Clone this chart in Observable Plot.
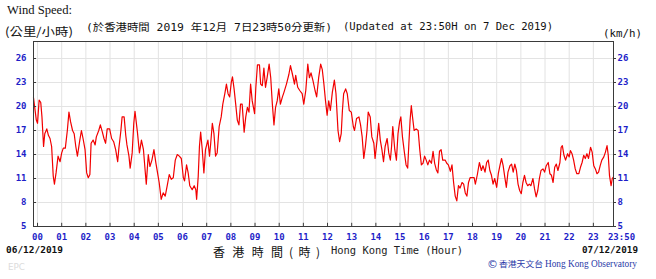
<!DOCTYPE html>
<html>
<head>
<meta charset="utf-8">
<script src="https://cdn.jsdelivr.net/npm/d3@7"></script>
<script src="https://cdn.jsdelivr.net/npm/@observablehq/plot@0.6"></script>
<style>
  html, body { margin: 0; padding: 0; background: #fff; }
  #wrap { position: relative; width: 656px; height: 279px; overflow: hidden; background: #fff; }
  #wrap svg { position: absolute; left: 0; top: 0; }
</style>
</head>
<body>
<div id="wrap"></div>
<script>
// minutes after 00:00 on 06/12/2019
const minutes = [
  -10, -3, 0, 4, 8, 11, 15, 18, 23, 27, 31, 35, 39, 42, 46, 51, 56, 60, 64, 69,
  74, 78, 82, 87, 91, 95, 99, 105, 109, 113, 118, 122, 126, 130, 133, 138, 143, 146, 152, 156,
  161, 165, 169, 173, 179, 184, 189, 194, 199, 202, 207, 210, 215, 219, 222, 227, 230, 235, 239, 242,
  245, 248, 253, 258, 263, 267, 270, 275, 279, 284, 289, 294, 298, 302, 307, 312, 317, 322, 327, 332,
  337, 342, 347, 352, 357, 362, 365, 370, 374, 378,
  384, 389, 393, 395, 399, 402, 405, 409, 413, 417, 420, 423, 427, 430, 434, 438, 442, 446, 451, 456,
  460, 465, 469, 473, 477, 481, 484, 488, 492, 496, 500, 504, 508, 513, 517, 521, 525, 529, 533, 539,
  542, 546, 551, 554, 558, 562, 566, 570, 575, 579, 583, 587, 591, 595, 599, 603, 608, 612, 618, 624,
  628, 633, 638, 641, 646, 651, 657, 661, 666, 671, 675, 679, 684, 689, 693, 698, 703, 707, 711, 715,
  719, 723, 727, 732, 737, 741, 746, 750, 754, 757, 760, 765, 769, 774, 779, 784, 787, 792, 798, 802,
  806, 810, 814, 818, 821, 826, 830, 835, 838, 843, 847, 851, 855, 859, 863, 868, 872, 876, 879, 882,
  887, 891, 895, 899, 902, 906, 911, 915, 919, 922, 925, 928, 931, 935, 940, 945, 949, 953, 957, 961,
  965, 969, 973, 978, 982, 986, 990, 994, 998, 1002, 1006, 1012, 1016, 1020, 1025, 1029, 1033, 1037, 1041, 1045,
  1049, 1054, 1058, 1062, 1066, 1070, 1074, 1079, 1084, 1087, 1092, 1097,
  1102, 1106, 1111, 1115, 1119, 1123, 1127, 1131, 1135, 1140, 1144, 1148, 1152, 1156, 1160, 1164, 1168, 1173, 1177, 1181,
  1185, 1189, 1193, 1197, 1201, 1205, 1209, 1213, 1217, 1221, 1225, 1230, 1234, 1238, 1242, 1246, 1250, 1255, 1259, 1263,
  1268, 1272, 1276, 1280, 1284, 1288, 1292, 1297, 1300, 1303, 1307, 1311, 1316, 1320, 1323, 1327, 1331, 1335, 1339, 1344,
  1348, 1352, 1356, 1360, 1364, 1368, 1373, 1377, 1381, 1385, 1389, 1393, 1397, 1401, 1406, 1410, 1414, 1417, 1420, 1424,
  1427, 1430
];
// wind speed (km/h)
const speeds = [
  21.1, 18.3, 17.9, 20.8, 20.5, 18.7, 15.0, 16.6, 17.2, 16.4, 16.0, 15.0, 11.3, 10.3, 11.7, 13.8, 13.1, 14.2, 14.8, 14.8,
  17.0, 19.3, 18.1, 17.0, 16.6, 15.0, 13.8, 15.8, 17.0, 16.0, 14.6, 11.7, 11.1, 11.5, 15.4, 15.8, 15.2, 16.2, 17.0, 17.7,
  16.8, 16.0, 15.4, 17.2, 17.2, 16.0, 15.6, 14.6, 13.1, 14.8, 17.0, 18.7, 18.7, 16.4, 15.2, 13.8, 12.3, 14.2, 17.9, 19.4,
  18.1, 16.8, 14.2, 15.8, 14.6, 12.1, 10.3, 14.0, 12.5, 13.3, 14.6, 12.9, 11.7, 10.5, 8.4, 9.2, 8.8, 10.1, 11.5, 10.9,
  11.1, 13.3, 14.0, 13.8, 13.5, 11.1, 10.7, 12.7, 11.7, 10.1,
  9.6, 10.1, 9.6, 8.4, 11.3, 15.0, 16.8, 14.6, 11.7, 14.6, 15.2, 15.8, 13.8, 15.4, 17.9, 16.6, 13.8, 14.2, 17.5, 18.7,
  20.3, 21.6, 22.8, 21.6, 21.2, 23.0, 23.7, 22.2, 20.3, 18.3, 17.7, 20.3, 20.3, 16.8, 18.7, 19.9, 19.3, 22.8, 20.7, 19.1,
  22.4, 25.2, 25.2, 22.8, 22.6, 24.8, 22.4, 23.6, 25.3, 23.6, 20.3, 17.7, 19.9, 20.7, 22.2, 20.3, 21.2, 21.8, 22.8, 24.0,
  25.1, 24.0, 22.8, 23.9, 22.4, 22.0, 21.6, 20.3, 22.0, 25.3, 23.6, 24.2, 23.2, 22.0, 21.2, 23.6, 25.3, 24.6, 22.8, 20.7,
  18.9, 20.7, 19.5, 21.8, 23.3, 21.6, 17.0, 15.6, 16.6, 19.5, 21.6, 22.2, 21.6, 19.5, 19.3, 17.5, 17.0, 18.5, 18.7, 17.7,
  16.2, 13.5, 15.0, 17.0, 19.3, 18.7, 16.2, 15.4, 13.5, 15.8, 17.9, 15.8, 14.6, 13.1, 15.0, 16.0, 14.2, 13.3, 15.0, 17.5,
  14.6, 13.3, 16.6, 18.1, 18.7, 16.2, 14.2, 12.7, 12.3, 15.4, 18.3, 20.1, 18.7, 17.0, 17.2, 17.0, 14.6, 12.7, 12.9, 13.8,
  13.3, 12.7, 13.3, 12.9, 14.4, 12.9, 12.1, 11.7, 14.4, 14.6, 13.3, 13.3, 12.9, 12.7, 11.9, 12.7, 10.5, 8.8, 8.2, 10.1,
  9.8, 10.5, 10.3, 9.2, 8.8, 10.5, 11.1, 11.1, 11.1, 10.3, 11.5, 13.0,
  12.0, 12.6, 11.8, 13.0, 13.3, 12.0, 11.4, 10.3, 11.0, 9.9, 11.6, 12.6, 13.5, 12.6, 11.2, 9.9, 11.8, 12.6, 12.8, 11.8,
  12.8, 12.0, 10.3, 9.5, 9.1, 10.5, 11.4, 10.5, 10.1, 10.3, 10.1, 11.0, 9.7, 8.7, 9.5, 11.0, 12.0, 12.2, 11.8, 12.6,
  13.0, 11.6, 11.4, 10.5, 12.4, 12.8, 12.0, 13.0, 14.9, 15.1, 13.9, 13.3, 14.1, 13.7, 14.5, 14.1, 13.3, 12.2, 11.6, 11.6,
  12.4, 13.0, 13.9, 13.5, 14.1, 13.5, 14.9, 14.3, 12.6, 12.2, 11.6, 11.8, 12.6, 13.3, 13.7, 14.3, 15.1, 13.9, 11.4, 10.1,
  11.0, 11.2
];
const hourLabels = ["00","01","02","03","04","05","06","07","08","09","10","11",
                    "12","13","14","15","16","17","18","19","20","21","22","23"];
const hourTicks = [0,60,120,180,240,300,360,420,480,540,600,660,720,780,840,900,960,1020,1080,1140,1200,1260,1320,1380];
const endTick = [1430];
const endLabel = "23:50";
const yTicks = [5, 8, 11, 14, 17, 20, 23, 26];

const data = minutes.map((t, i) => ({t, v: speeds[i]}));

const blue = "#1e1ec8";
const frameColor = "#3a3a3a";
const gridColor = "#e3e3e3";
const mono = "'DejaVu Sans Mono', 'Liberation Mono', monospace";
const axisText = {color: blue, fontFamily: mono, fontWeight: "bold", fontSize: 9, tickSize: 0, label: null};

const chart = Plot.plot({
  width: 656,
  height: 279,
  marginLeft: 33,
  marginRight: 43,
  marginTop: 41,
  marginBottom: 53,
  style: {background: "transparent", overflow: "visible"},
  x: {domain: [-10, 1430]},
  y: {domain: [5, 28.125]},
  marks: [
    Plot.gridX(hourTicks, {stroke: gridColor, strokeOpacity: 1}),
    Plot.gridY(yTicks.slice(1), {stroke: gridColor, strokeOpacity: 1}),
    Plot.line(data, {x: "t", y: "v", stroke: "#f20000", strokeWidth: 1.2}),
    Plot.frame({stroke: frameColor}),
    Plot.ruleX(hourTicks, {y1: 5, y2: 5.4, stroke: frameColor}),
    Plot.ruleY(yTicks, {x1: -10, x2: -2.5, stroke: frameColor}),
    Plot.ruleY(yTicks, {x1: 1430, x2: 1437.5, stroke: frameColor}),
    Plot.axisX(hourTicks, {...axisText, anchor: "bottom", tickPadding: 7, tickFormat: d => hourLabels[d / 60]}),
    Plot.text(endTick, {x: d => d, frameAnchor: "bottom", text: () => endLabel, lineAnchor: "top",
      dy: 7, dx: 8, fill: blue, fontFamily: mono, fontWeight: "bold", fontSize: 9}),
    Plot.axisY(yTicks, {...axisText, anchor: "left", tickPadding: 7}),
    Plot.axisY(yTicks, {...axisText, anchor: "right", tickPadding: 4})
  ]
});
document.getElementById("wrap").appendChild(chart);

// titles and captions
const ov = d3.select("#wrap").append("svg").attr("width", 656).attr("height", 279);
function txt(x, y, s, o = {}) {
  const t = ov.append("text").attr("x", x).attr("y", y).text(s)
    .attr("font-family", o.family || mono)
    .attr("font-size", o.size || 10.6)
    .attr("font-weight", o.weight || "normal")
    .attr("fill", o.fill || "#111")
    .attr("text-anchor", o.anchor || "start");
  if (o.len) t.attr("textLength", o.len).attr("lengthAdjust", o.adjust || "spacingAndGlyphs");
  return t;
}
const serif = "'Liberation Serif', 'DejaVu Serif', serif";
const cjk = "'Noto Sans CJK TC', 'Noto Sans CJK SC', sans-serif";
txt(7, 14, "Wind Speed:", {family: serif, size: 13, len: 65});
txt(5, 35.5, "(公里/小時)", {family: cjk, size: 11.5, len: 68});
txt(86, 30.5, "(於香港時間 2019 年12月 7日23時50分更新)", {family: mono + ", " + cjk, size: 10.4, len: 246});
txt(343, 29.5, "(Updated at 23:50H on 7 Dec 2019)", {size: 10.6, len: 210});
txt(603, 37, "(km/h)", {size: 10.6, len: 39});
txt(6, 253, "06/12/2019", {size: 9.5, weight: "bold", len: 57});
txt(638, 253, "07/12/2019", {size: 9.5, weight: "bold", anchor: "end", len: 56});
txt(213, 256.5, "香港時間", {family: cjk, size: 12, len: 70, adjust: "spacing"});
txt(289, 256.5, "(時)", {family: cjk, size: 12, len: 31, adjust: "spacing"});
txt(331, 254, "Hong Kong Time (Hour)", {size: 10.5, fill: "#222", len: 132});
txt(487, 268, "©", {family: "'DejaVu Sans', sans-serif", size: 11, fill: "#2a3aa8"});
txt(499, 267, "香港天文台", {family: cjk, size: 8.5, fill: "#2a3aa8", len: 44});
txt(545, 267, "Hong Kong Observatory", {family: serif, size: 9.5, fill: "#2a3aa8", len: 92});
txt(8, 270, "EPC", {family: "'DejaVu Sans', sans-serif", size: 8, fill: "#dcdcdc", len: 17});
</script>
</body>
</html>
